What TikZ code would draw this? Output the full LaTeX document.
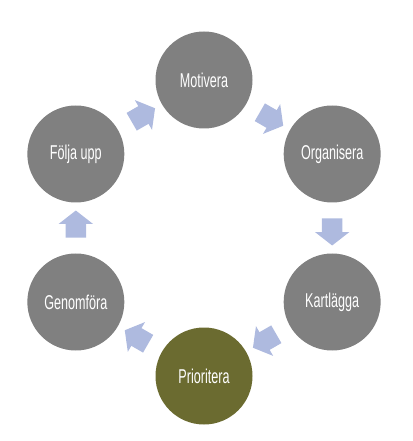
\documentclass[tikz,border=0pt]{standalone}
\usepackage{fontspec}
\setmainfont{Liberation Sans}[FakeStretch=0.63]
\usepackage{xcolor}
\usepackage{tikz}
\usetikzlibrary{shapes.arrows,calc}
\definecolor{cGray}{HTML}{808080}
\definecolor{cOlive}{HTML}{6B6B30}
\definecolor{cArrow}{HTML}{AEBADF}

\begin{document}
\begin{tikzpicture}[font=\fontsize{20}{22}\selectfont,
  c/.style={circle, fill=cGray, text=white, minimum size=97pt, inner sep=0pt},
  p/.style={single arrow, fill=cArrow, minimum height=27pt, inner xsep=0pt, inner ysep=10pt,
    single arrow head extend=7pt, single arrow tip angle=104}]
\useasboundingbox (-204pt,-213pt) rectangle (208pt,228pt);
\node[c] (mot) at (90:148pt) {Motivera};
\node[c] (org) at (30:148pt) {Organisera};
\node[c] (kar) at (-30:148pt) {Kartlägga};
\node[c, fill=cOlive] (pri) at (-90:148pt) {Prioritera};
\node[c] (gen) at (-150:148pt) {Genomföra};
\node[c] (fol) at (150:148pt) {Följa upp};
% arrows between the circles
\node[p, rotate=-30] (a1) at ($(mot)!0.5!(org)$) {};
\node[p, rotate=-90] (a2) at ($(org)!0.5!(kar)$) {};
\node[p, rotate=-150] (a3) at ($(kar)!0.5!(pri)$) {};
\node[p, rotate=150] (a4) at ($(pri)!0.5!(gen)$) {};
\node[p, rotate=90] (a5) at ($(gen)!0.5!(fol)$) {};
\node[p, rotate=30] (a6) at ($(fol)!0.5!(mot)$) {};
\end{tikzpicture}
\end{document}
